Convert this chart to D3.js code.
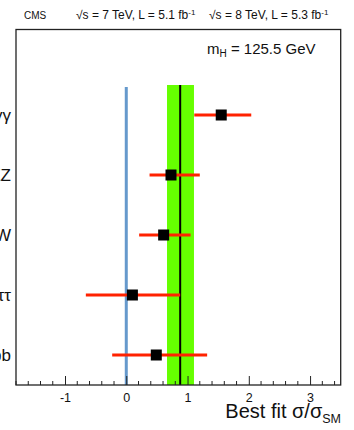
<!DOCTYPE html>
<html><head><meta charset="utf-8">
<script src="https://cdn.jsdelivr.net/npm/d3@7"></script>
<style>
html,body{margin:0;padding:0;background:#fff;}
svg{display:block;font-family:"Liberation Sans",Arial,Helvetica,sans-serif;}
</style></head>
<body>
<svg id="c" width="354" height="430"></svg>
<script>
const categories = ["H \u2192 \u03b3\u03b3", "H \u2192 ZZ", "H \u2192 WW", "H \u2192 \u03c4\u03c4", "H \u2192 bb"];
const bestFit = [1.55, 0.73, 0.61, 0.10, 0.49];
const errLow = [1.11, 0.38, 0.21, -0.66, -0.23];
const errHigh = [2.04, 1.20, 1.05, 0.88, 1.32];
const combined = 0.88;
const combinedLow = 0.665;
const combinedHigh = 1.105;
const xTicks = [-1, 0, 1, 2, 3];

const svg = d3.select("#c");
const L = 16, R = 340.7, T = 29.5, B = 385;
const x = d3.scaleLinear().domain([-1.8, 3.5]).range([L, R]);
const y = d3.scalePoint().domain(categories).range([115, 355]);

// combined band
svg.append("rect").attr("x", x(combinedLow)).attr("y", 85)
  .attr("width", x(combinedHigh) - x(combinedLow)).attr("height", B - 85)
  .attr("fill", "#66ff00");
svg.append("line").attr("x1", x(combined)).attr("x2", x(combined))
  .attr("y1", 85).attr("y2", B).attr("stroke", "#000").attr("stroke-width", 2);

// SM=0 line (blue)
svg.append("line").attr("x1", x(0)).attr("x2", x(0)).attr("y1", 87).attr("y2", B)
  .attr("stroke", "#6699cc").attr("stroke-width", 3);

// error bars
const rows = categories.map((c, i) => ({c, v: bestFit[i], lo: errLow[i], hi: errHigh[i]}));
svg.selectAll(".err").data(rows).enter().append("line")
  .attr("x1", d => x(d.lo)).attr("x2", d => x(d.hi))
  .attr("y1", d => y(d.c)).attr("y2", d => y(d.c))
  .attr("stroke", "#ff2200").attr("stroke-width", 3);
svg.selectAll(".pt").data(rows).enter().append("rect")
  .attr("x", d => x(d.v) - 5.5).attr("y", d => y(d.c) - 5.5)
  .attr("width", 11).attr("height", 11).attr("fill", "#000");

// frame
svg.append("rect").attr("x", L).attr("y", T).attr("width", R - L).attr("height", B - T)
  .attr("fill", "none").attr("stroke", "#222").attr("stroke-width", 1.3);

// x axis ticks (inside)
const minor = d3.range(-18, 36, 2).map(v => v / 10).filter(v => Math.abs(v - Math.round(v)) > 1e-6);
svg.selectAll(".mt").data(minor).enter().append("line")
  .attr("x1", d => x(d)).attr("x2", d => x(d)).attr("y1", B).attr("y2", B - 4)
  .attr("stroke", "#222").attr("stroke-width", 1);
const ax = d3.axisBottom(x).tickValues(xTicks).tickSize(-9).tickPadding(8.5).tickFormat(d => String(d));
const g = svg.append("g").attr("transform", `translate(0,${B})`).call(ax);
g.select(".domain").remove();
g.selectAll(".tick line").attr("stroke", "#222").attr("stroke-width", 1);
g.selectAll(".tick text").attr("font-size", 12.5).attr("fill", "#111")
  .attr("font-family", "Liberation Sans, Arial, sans-serif");

// row labels
svg.selectAll(".lab").data(categories).enter().append("text")
  .attr("x", 11).attr("y", d => y(d) + 6).attr("text-anchor", "end")
  .attr("font-size", 17).attr("fill", "#111").text(d => d);

// header
svg.append("text").attr("x", 24).attr("y", 19).attr("font-size", 10).attr("fill", "#111").text("CMS");
function header(x0, s) {
  const h = svg.append("text").attr("x", x0).attr("y", 19).attr("font-size", 12).attr("fill", "#111");
  h.append("tspan").text(s);
  h.append("tspan").attr("dy", -4.5).attr("font-size", 8).text("-1");
}
header(76, "\u221As = 7 TeV, L = 5.1 fb");
header(209, "\u221As = 8 TeV, L = 5.3 fb");

const m = svg.append("text").attr("x", 207).attr("y", 54).attr("font-size", 15).attr("fill", "#111");
m.append("tspan").text("m");
m.append("tspan").attr("dy", 3).attr("font-size", 10).text("H");
m.append("tspan").attr("dy", -3).text(" = 125.5 GeV");

// x title
const t = svg.append("text").attr("x", 341).attr("y", 418).attr("text-anchor", "end")
  .attr("font-size", 20).attr("fill", "#111");
t.append("tspan").text("Best fit \u03c3/\u03c3");
t.append("tspan").attr("dy", 5).attr("font-size", 12.5).text("SM");
</script>
</body></html>
